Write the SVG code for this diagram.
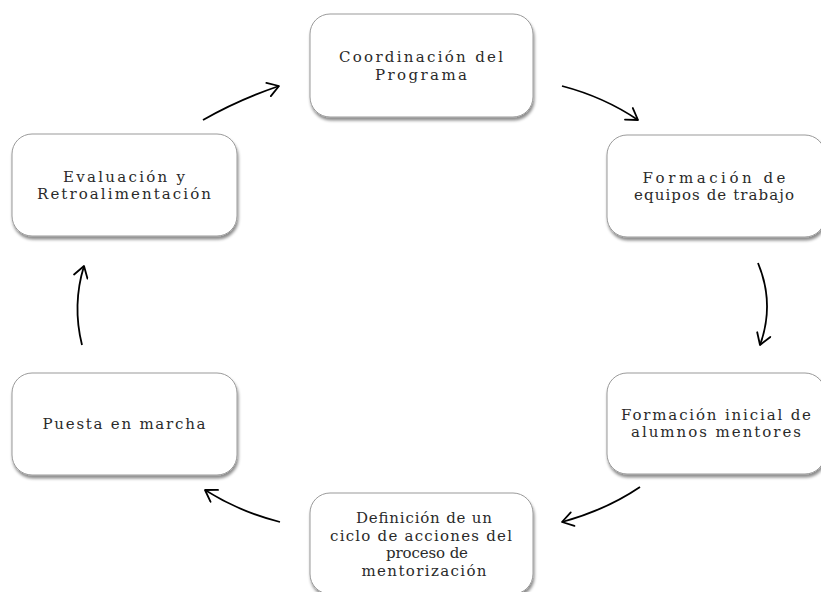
<svg xmlns="http://www.w3.org/2000/svg" width="821" height="592" viewBox="0 0 821 592">
<defs>
<filter id="sh" x="-10%" y="-10%" width="125%" height="130%">
<feDropShadow dx="1" dy="3" stdDeviation="1.8" flood-color="#000" flood-opacity="0.45"/>
</filter>
<marker id="ah" viewBox="0 0 14 16" refX="13" refY="8" markerWidth="14" markerHeight="16" markerUnits="userSpaceOnUse" orient="auto">
<path d="M2,1 L13,8 L2,15" fill="none" stroke="#000" stroke-width="1.8" stroke-linecap="round" stroke-linejoin="round"/>
</marker>
</defs>
<style>
.box{fill:#fff;stroke:#9a9a9a;stroke-width:1;filter:url(#sh)}
.t{font-family:"DejaVu Serif","Liberation Serif",serif;font-size:15px;fill:#2a2a2a;text-anchor:middle}
.c{fill:none;stroke:#000;stroke-width:1.8;marker-end:url(#ah)}
</style>
<rect width="821" height="592" fill="#fff"/>
<g id="connectors">
<path class="c" d="M203,120 Q238,100 279,86"/>
<path class="c" d="M562,86 Q604,97 638,120"/>
<path class="c" d="M758,263 Q775,304 760,345"/>
<path class="c" d="M640,487 Q606,510 562,522"/>
<path class="c" d="M280,522 Q240,512 205,490"/>
<path class="c" d="M82,345 Q72,305 84,266"/>
</g>
<g id="n1">
<rect class="box" x="310" y="14" width="223" height="103" rx="20"/>
<text class="t" x="421" y="62" textLength="164" lengthAdjust="spacing">Coordinación del</text>
<text class="t" x="421" y="79.5" textLength="92" lengthAdjust="spacing">Programa</text>
</g>
<g id="n2">
<rect class="box" x="607" y="135" width="218" height="102" rx="20"/>
<text class="t" x="714" y="182.5" textLength="143" lengthAdjust="spacing">Formación de</text>
<text class="t" x="714" y="200" textLength="160" lengthAdjust="spacing">equipos de trabajo</text>
</g>
<g id="n3">
<rect class="box" x="607" y="373" width="218" height="101" rx="20"/>
<text class="t" x="716" y="419.5" textLength="190" lengthAdjust="spacing">Formación inicial de</text>
<text class="t" x="716" y="437" textLength="170" lengthAdjust="spacing">alumnos mentores</text>
</g>
<g id="n4">
<rect class="box" x="310" y="493" width="223" height="101" rx="20"/>
<text class="t" x="424" y="523" textLength="136" lengthAdjust="spacing">Definición de un</text>
<text class="t" x="421" y="540.5" textLength="182" lengthAdjust="spacing">ciclo de acciones del</text>
<text class="t" x="427" y="558" textLength="82" lengthAdjust="spacing">proceso de</text>
<text class="t" x="424" y="575.5" textLength="125" lengthAdjust="spacing">mentorización</text>
</g>
<g id="n5">
<rect class="box" x="12" y="373" width="225" height="102" rx="20"/>
<text class="t" x="124" y="429" textLength="163" lengthAdjust="spacing">Puesta en marcha</text>
</g>
<g id="n6">
<rect class="box" x="12" y="134" width="225" height="102" rx="20"/>
<text class="t" x="124" y="181.5" textLength="122" lengthAdjust="spacing">Evaluación y</text>
<text class="t" x="124" y="199" textLength="174" lengthAdjust="spacing">Retroalimentación</text>
</g>
</svg>
